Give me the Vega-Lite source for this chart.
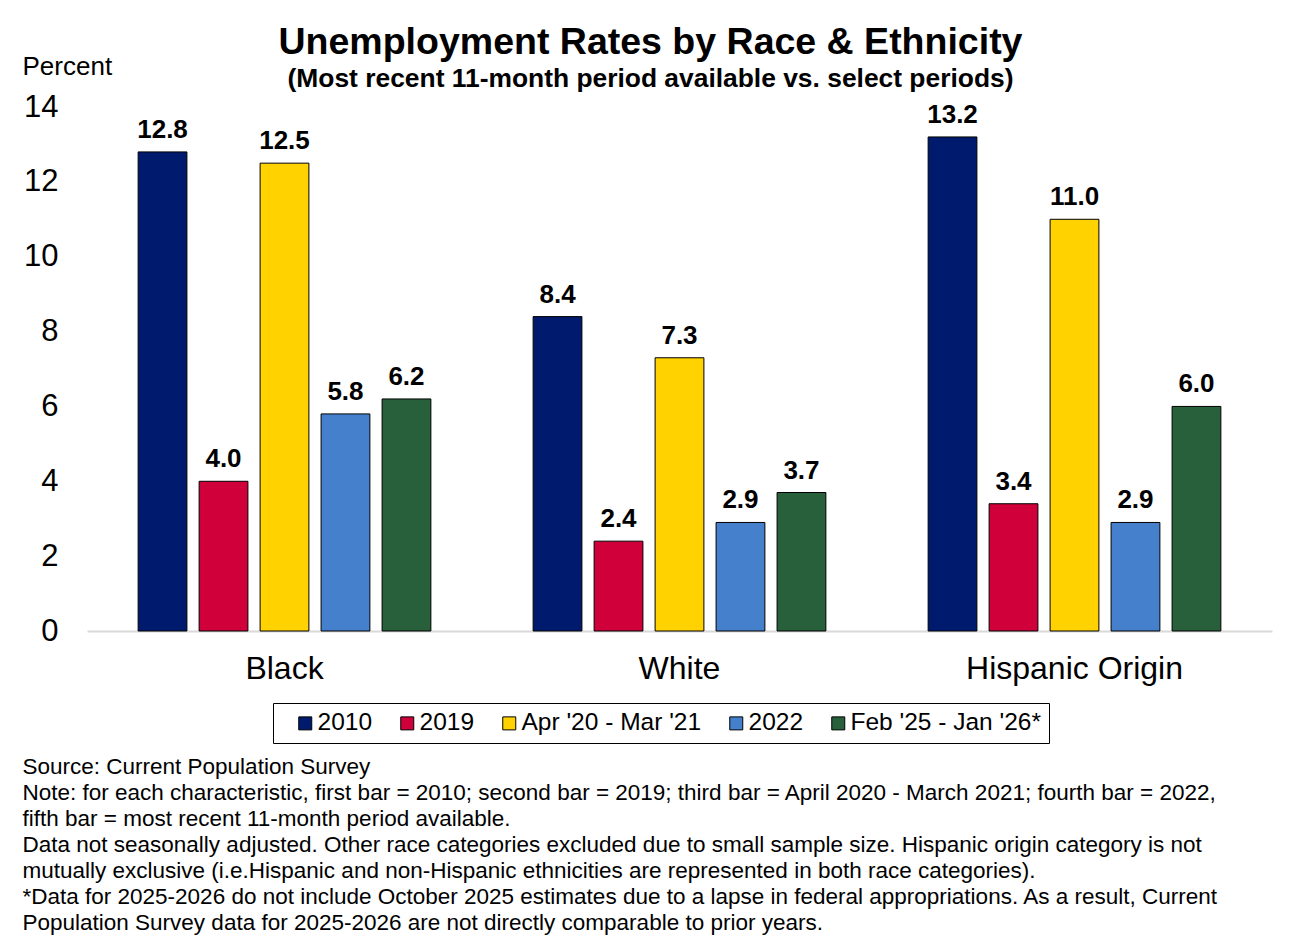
{
  "$schema": "https://vega.github.io/schema/vega-lite/v6.json",
  "width": 1185,
  "height": 524,
  "autosize": "none",
  "padding": {"left": 87, "top": 107, "right": 19, "bottom": 304},
  "background": "white",
  "title": {
    "text": "Unemployment Rates by Race & Ethnicity",
    "subtitle": "(Most recent 11-month period available vs. select periods)",
    "font": "Liberation Sans",
    "fontSize": 37.5,
    "fontWeight": "bold",
    "color": "black",
    "subtitleFont": "Liberation Sans",
    "subtitleFontSize": 26.4,
    "subtitleFontWeight": "bold",
    "subtitleColor": "black",
    "subtitlePadding": 4,
    "anchor": "middle",
    "frame": "group",
    "dx": -29,
    "dy": 57,
    "offset": 18
  },
  "data": {
    "values": [
      {"group": "Black", "period": "2010", "rate": 12.8},
      {"group": "Black", "period": "2019", "rate": 4.0},
      {"group": "Black", "period": "Apr '20 - Mar '21", "rate": 12.5},
      {"group": "Black", "period": "2022", "rate": 5.8},
      {"group": "Black", "period": "Feb '25 - Jan '26*", "rate": 6.2},
      {"group": "White", "period": "2010", "rate": 8.4},
      {"group": "White", "period": "2019", "rate": 2.4},
      {"group": "White", "period": "Apr '20 - Mar '21", "rate": 7.3},
      {"group": "White", "period": "2022", "rate": 2.9},
      {"group": "White", "period": "Feb '25 - Jan '26*", "rate": 3.7},
      {"group": "Hispanic Origin", "period": "2010", "rate": 13.2},
      {"group": "Hispanic Origin", "period": "2019", "rate": 3.4},
      {"group": "Hispanic Origin", "period": "Apr '20 - Mar '21", "rate": 11.0},
      {"group": "Hispanic Origin", "period": "2022", "rate": 2.9},
      {"group": "Hispanic Origin", "period": "Feb '25 - Jan '26*", "rate": 6.0}
    ]
  },
  "encoding": {
    "x": {
      "field": "group",
      "type": "nominal",
      "sort": ["Black", "White", "Hispanic Origin"],
      "scale": {"paddingInner": 0.228, "paddingOuter": 0.114},
      "axis": {
        "labelAngle": 0,
        "labelFont": "Liberation Sans",
        "labelFontSize": 32,
        "labelColor": "black",
        "labelPadding": 22,
        "labelLimit": 0,
        "ticks": false,
        "domainColor": "#d9d9d9",
        "domainWidth": 2,
        "title": [
          "Source: Current Population Survey",
          "Note: for each characteristic, first bar = 2010; second bar = 2019; third bar = April 2020 - March 2021; fourth bar = 2022,",
          "fifth bar = most recent 11-month period available.",
          "Data not seasonally adjusted. Other race categories excluded due to small sample size. Hispanic origin category is not",
          "mutually exclusive (i.e.Hispanic and non-Hispanic ethnicities are represented in both race categories).",
          "*Data for 2025-2026 do not include October 2025 estimates due to a lapse in federal appropriations. As a result, Current",
          "Population Survey data for 2025-2026 are not directly comparable to prior years."
        ],
        "titleFont": "Liberation Sans",
        "titleFontSize": 22.5,
        "titleFontWeight": "normal",
        "titleColor": "black",
        "titleLineHeight": 26,
        "titleAlign": "left",
        "titleBaseline": "top",
        "titleAnchor": "start",
        "titleLimit": 0,
        "titleX": -65,
        "titleY": 124
      }
    },
    "xOffset": {
      "field": "period",
      "type": "nominal",
      "sort": ["2010", "2019", "Apr '20 - Mar '21", "2022", "Feb '25 - Jan '26*"],
      "scale": {"paddingInner": 0.2, "paddingOuter": 0.1}
    },
    "y": {
      "field": "rate",
      "type": "quantitative",
      "scale": {"domain": [0, 14]},
      "axis": {
        "values": [0, 2, 4, 6, 8, 10, 12, 14],
        "grid": false,
        "domain": false,
        "ticks": false,
        "labelFont": "Liberation Sans",
        "labelFontSize": 31,
        "labelColor": "black",
        "labelPadding": 29,
        "title": "Percent",
        "titleAngle": 0,
        "titleFont": "Liberation Sans",
        "titleFontSize": 26,
        "titleFontWeight": "normal",
        "titleColor": "black",
        "titleAlign": "left",
        "titleBaseline": "alphabetic",
        "titleX": -65,
        "titleY": -33
      }
    }
  },
  "layer": [
    {
      "mark": {"type": "bar", "stroke": "black", "strokeWidth": 1},
      "encoding": {
        "color": {
          "field": "period",
          "type": "nominal",
          "scale": {
            "domain": ["2010", "2019", "Apr '20 - Mar '21", "2022", "Feb '25 - Jan '26*"],
            "range": ["#001a6e", "#d0003a", "#ffd200", "#4580cc", "#27603a"]
          },
          "legend": {
            "title": null,
            "orient": "none",
            "legendX": 186,
            "legendY": 596,
            "direction": "horizontal",
            "labelFont": "Liberation Sans",
            "labelFontSize": 24.5,
            "labelColor": "black",
            "labelLimit": 0,
            "symbolType": "square",
            "symbolSize": 169,
            "symbolStrokeColor": "black",
            "symbolStrokeWidth": 1,
            "symbolOpacity": 1,
            "symbolOffset": 12,
            "labelOffset": 0,
            "columnPadding": 10,
            "padding": 8,
            "strokeColor": "black"
          }
        }
      }
    },
    {
      "mark": {
        "type": "text",
        "baseline": "alphabetic",
        "dy": -14,
        "font": "Liberation Sans",
        "fontSize": 26,
        "fontWeight": "bold",
        "color": "black"
      },
      "encoding": {
        "text": {"field": "rate", "type": "quantitative", "format": ".1f"}
      }
    }
  ],
  "config": {
    "view": {"stroke": null}
  }
}
